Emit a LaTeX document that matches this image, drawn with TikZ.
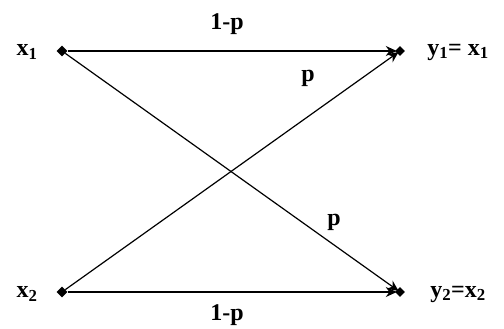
\documentclass[tikz,border=0pt]{standalone}
\usepackage{fontspec}
\setmainfont{Liberation Serif}
\usetikzlibrary{shapes.geometric,arrows.meta}
\tikzset{
  src/.style={diamond,fill=black,inner sep=0pt,minimum size=11pt},
  dst/.style={diamond,fill=black,inner sep=0pt,minimum size=10pt},
  lbl/.style={font=\fontsize{24}{26}\selectfont\bfseries,inner sep=0pt},
  edge/.style={-{Stealth[length=11pt,width=10pt]},line width=1.2pt,shorten >=-2pt}
}
\begin{document}
\begin{tikzpicture}[x=1pt,y=-1pt]
\useasboundingbox (0,0) rectangle (504,329);
\node[src] (x1) at (62,51) {};
\node[src] (x2) at (62,292) {};
\node[dst] (y1) at (400,51) {};
\node[dst] (y2) at (400,292) {};
\node[lbl] (lx1) at (27,52) {x\textsubscript{1}};
\node[lbl] (lx2) at (27,294) {x\textsubscript{2}};
\node[lbl] (ly1) at (458,52) {y\textsubscript{1}= x\textsubscript{1}};
\node[lbl] (ly2) at (458,294) {y\textsubscript{2}=x\textsubscript{2}};
\draw[edge] (x1) -- (y1);
\draw[edge] (x2) -- (y2);
\draw[edge] (x1) -- (y2);
\draw[edge] (x2) -- (y1);
\node[lbl] (t1) at (227,24) {1-p};
\node[lbl] (t2) at (308,78) {p};
\node[lbl] (t3) at (334,222) {p};
\node[lbl] (t4) at (227,315) {1-p};
\end{tikzpicture}
\end{document}
